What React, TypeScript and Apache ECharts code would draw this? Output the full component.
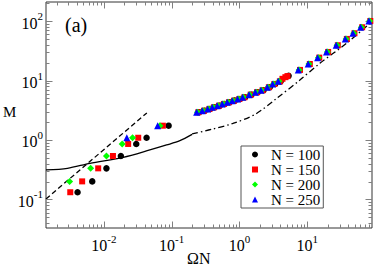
import { useEffect, useRef } from 'react';
import * as echarts from 'echarts';

const FONT = '"Liberation Serif", "DejaVu Serif", "Times New Roman", serif';

// axis ranges (log scales)
const X_MIN = 0.0014;
const X_MAX = 90;
const Y_MIN = 0.033;
const Y_MAX = 210;

// tick positions: decades x multipliers (1 = major)
const decades = [0.001, 0.01, 0.1, 1, 10, 100];
const tickMultipliers = [1, 2, 3, 4, 5, 6, 7, 8, 9];

const seriesNames = ['N = 100', 'N = 150', 'N = 200', 'N = 250'];
const seriesColors = ['#000000', '#ff0000', '#00ff00', '#0000ff'];
const seriesSymbols = ['circle', 'rect', 'diamond', 'triangle'];
const seriesSizes = [6.5, 6, 7, 7];

// data [ΩN, M]
const n100: number[][] = [
  [0.00409, 0.132], [0.00673, 0.201], [0.0109, 0.333], [0.0178, 0.538], [0.030, 0.857],
  [0.0426, 1.09], [0.090, 1.74],
  [0.254, 2.93], [0.307, 3.11], [0.370, 3.33], [0.432, 3.55], [0.511, 3.78], [0.606, 4.04],
  [0.718, 4.31], [0.851, 4.59], [1.02, 4.90], [1.21, 5.23], [1.50, 5.79], [1.86, 6.36],
  [2.26, 6.87], [2.79, 7.71], [3.36, 8.75], [4.05, 9.7], [5.3, 12.0],
];
const n150: number[][] = [
  [0.00319, 0.132], [0.00478, 0.201], [0.00824, 0.333], [0.0136, 0.538], [0.0228, 0.857],
  [0.0321, 1.09], [0.0741, 1.74],
  [0.247, 2.93], [0.299, 3.11], [0.359, 3.33], [0.420, 3.55], [0.497, 3.78], [0.589, 4.04],
  [0.699, 4.31], [0.828, 4.59], [0.993, 4.90], [1.18, 5.23], [1.46, 5.79], [1.81, 6.36],
  [2.19, 6.87], [2.71, 7.71], [3.26, 8.75], [3.94, 9.7], [4.3, 10.7], [4.75, 11.4], [5.1, 11.9],
  [7.8, 15.1], [10.9, 19.0], [15.0, 24.3], [20.3, 30.3], [28.2, 39.3], [38.3, 50.2],
  [49.6, 62.5], [64.4, 78.9], [85.0, 100.7],
];
const n200: number[][] = [
  [0.00312, 0.201], [0.00637, 0.333], [0.0109, 0.538], [0.0186, 0.857], [0.0265, 1.09],
  [0.067, 1.74],
  [0.240, 2.93], [0.290, 3.11], [0.349, 3.33], [0.408, 3.55], [0.483, 3.78], [0.573, 4.04],
  [0.679, 4.31], [0.804, 4.59], [0.965, 4.90], [1.14, 5.23], [1.42, 5.79], [1.76, 6.36],
  [2.13, 6.87], [2.64, 7.71], [3.17, 8.75], [3.83, 9.7],
  [7.57, 15.1], [10.6, 19.0], [14.6, 24.3], [19.8, 30.3], [27.5, 39.3], [37.4, 50.2],
  [48.4, 62.5], [62.8, 78.9], [83.0, 100.7],
];
const n250: number[][] = [
  [0.0218, 1.09], [0.062, 1.74],
  [0.233, 2.93], [0.282, 3.11], [0.339, 3.33], [0.396, 3.55], [0.469, 3.78], [0.556, 4.04],
  [0.659, 4.31], [0.781, 4.59], [0.937, 4.90], [1.11, 5.23], [1.38, 5.79], [1.71, 6.36],
  [2.07, 6.87], [2.56, 7.71], [3.08, 8.75], [3.72, 9.7],
  [7.35, 15.1], [10.3, 19.0], [14.2, 24.3], [19.2, 30.3], [26.7, 39.3], [36.3, 50.2],
  [47.0, 62.5], [61.0, 78.9], [81.0, 100.7],
];
const seriesData = [n100, n150, n200, n250];

// reference curves
const dashedLine: number[][] = [[0.0014, 0.102], [0.043, 2.85]];
const solidLine: number[][] = [
  [0.0014, 0.313], [0.0029, 0.333], [0.00622, 0.405], [0.0193, 0.511], [0.0476, 0.679],
  [0.0841, 0.824], [0.132, 0.973], [0.2, 1.24],
];
const dashDotLine: number[][] = [
  [0.2, 1.27], [0.387, 1.51], [0.8, 1.9], [1.7, 2.7], [3.52, 5.0], [7.78, 10.2],
  [15.3, 19.5], [38, 42.5], [90, 98],
];

const TICK_COLOR = '#808080';
const FRAME_COLOR = '#333333';

function buildTicks(min: number, max: number): number[][] {
  const out: number[][] = [];
  for (const d of decades) {
    for (const m of tickMultipliers) {
      const v = d * m;
      if (v > min * 1.0001 && v < max * 0.9999) out.push([v, m === 1 ? 1 : 0]);
    }
  }
  return out;
}

const xTickData = buildTicks(X_MIN, X_MAX).map(([v, maj]) => [v, 1, maj]);
const yTickData = buildTicks(Y_MIN, Y_MAX).map(([v, maj]) => [1, v, maj]);

function powLabel(v: number): string {
  const e = Math.log10(v);
  const r = Math.round(e);
  if (Math.abs(e - r) > 1e-6) return '';
  return `{b|10}{s|${r}}`;
}

const richLabel = {
  b: { fontSize: 16, fontFamily: FONT, color: '#000', padding: [4, 0, 0, 0] },
  s: { fontSize: 11, fontFamily: FONT, color: '#000', padding: [0, 0, 10, 0] },
};

export default function App() {
  const ref = useRef<HTMLDivElement>(null);

  useEffect(() => {
    if (!ref.current) return;
    const chart = echarts.init(ref.current, undefined, { renderer: 'svg' });

    const scatterSeries = seriesNames.map((name, i) => ({
      name,
      type: 'scatter',
      data: seriesData[i],
      symbol: seriesSymbols[i],
      symbolSize: seriesSizes[i],
      itemStyle: { color: seriesColors[i], opacity: 1 },
      silent: true,
      z: 5 + i,
    }));

    const option: any = {
      animation: false,
      backgroundColor: '#ffffff',
      grid: {
        left: 46, right: 2, top: 2, bottom: 37,
        show: true, borderColor: FRAME_COLOR, borderWidth: 1,
        backgroundColor: 'transparent',
      },
      xAxis: {
        type: 'log', logBase: 10, min: X_MIN, max: X_MAX,
        axisLine: { show: false },
        axisTick: { show: false },
        splitLine: { show: false },
        axisLabel: {
          margin: 5, formatter: powLabel, rich: richLabel,
          showMinLabel: false, showMaxLabel: false,
        },
      },
      yAxis: {
        type: 'log', logBase: 10, min: Y_MIN, max: Y_MAX,
        axisLine: { show: false },
        axisTick: { show: false },
        splitLine: { show: false },
        axisLabel: {
          margin: 3, formatter: powLabel, rich: richLabel,
          showMinLabel: false, showMaxLabel: false,
        },
      },
      legend: {
        data: seriesNames,
        orient: 'vertical',
        left: 241, top: 146,
        itemWidth: 6, itemHeight: 6, itemGap: 0,
        padding: [1, 3, 1, 11],
        borderColor: '#555555', borderWidth: 1,
        backgroundColor: '#ffffff',
        selectedMode: false,
        textStyle: {
          fontFamily: FONT, fontSize: 15, color: '#000', lineHeight: 14.4,
          padding: [0, 0, 0, 8],
        },
      },
      graphic: [
        { type: 'text', left: 65, top: 15, style: { text: '(a)', font: `20px ${FONT}`, fill: '#000' } },
        { type: 'text', left: 3, top: 104, style: { text: 'M', font: `15px ${FONT}`, fill: '#000' } },
        { type: 'text', left: 187, top: 250, style: { text: 'ΩN', font: `16px ${FONT}`, fill: '#000' } },
      ],
      series: [
        {
          type: 'custom', silent: true, data: xTickData, z: 3,
          renderItem: (params: any, api: any) => {
            const cs = params.coordSys;
            const p = api.coord([api.value(0), api.value(1)]);
            const len = api.value(2) ? 6.5 : 3.5;
            const x = Math.round(p[0]) + 0.5;
            const yb = cs.y + cs.height;
            const yt = cs.y;
            return {
              type: 'group',
              children: [
                { type: 'line', shape: { x1: x, y1: yb, x2: x, y2: yb - len }, style: { stroke: TICK_COLOR, lineWidth: 1 } },
                { type: 'line', shape: { x1: x, y1: yt, x2: x, y2: yt + len }, style: { stroke: TICK_COLOR, lineWidth: 1 } },
              ],
            };
          },
        },
        {
          type: 'custom', silent: true, data: yTickData, z: 3,
          renderItem: (params: any, api: any) => {
            const cs = params.coordSys;
            const p = api.coord([api.value(0), api.value(1)]);
            const len = api.value(2) ? 6.5 : 3.5;
            const y = Math.round(p[1]) + 0.5;
            const xl = cs.x;
            const xr = cs.x + cs.width;
            return {
              type: 'group',
              children: [
                { type: 'line', shape: { x1: xl, y1: y, x2: xl + len, y2: y }, style: { stroke: TICK_COLOR, lineWidth: 1 } },
                { type: 'line', shape: { x1: xr, y1: y, x2: xr - len, y2: y }, style: { stroke: TICK_COLOR, lineWidth: 1 } },
              ],
            };
          },
        },
        {
          type: 'line', data: dashedLine, showSymbol: false, silent: true, z: 2,
          lineStyle: { color: '#000', width: 1.3, type: [5, 3] },
        },
        {
          type: 'line', data: solidLine, showSymbol: false, silent: true, z: 2, smooth: 0.3,
          lineStyle: { color: '#000', width: 1.3 },
        },
        {
          type: 'line', data: dashDotLine, showSymbol: false, silent: true, z: 2, smooth: 0.3,
          lineStyle: { color: '#000', width: 1.3, type: [6, 3, 1.5, 3] },
        },
        ...scatterSeries,
      ],
    };

    chart.setOption(option);
    return () => chart.dispose();
  }, []);

  return (
    <div
      ref={ref}
      style={{ position: 'fixed', left: 0, top: 0, width: 374, height: 265, background: '#fff' }}
    />
  );
}
